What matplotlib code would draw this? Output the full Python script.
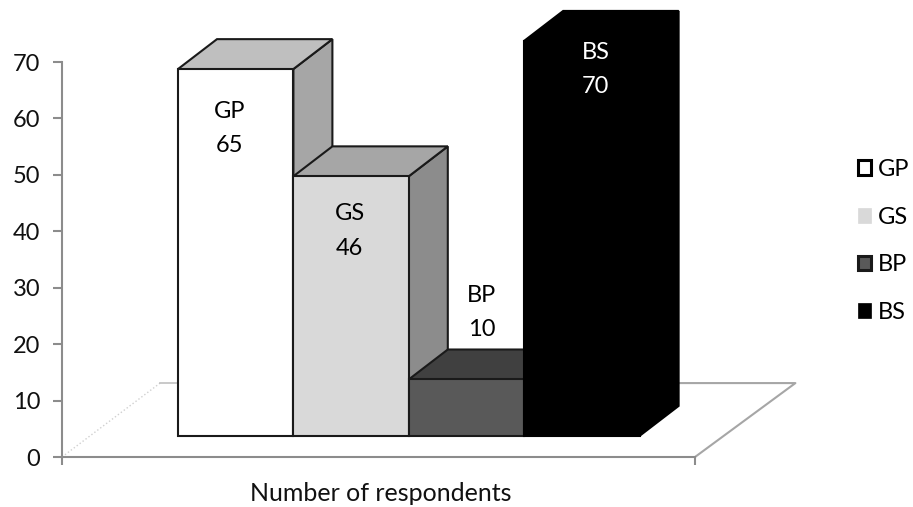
import matplotlib
matplotlib.use('Agg')
import matplotlib.pyplot as plt
from matplotlib.patches import Polygon, Patch

plt.rcParams['font.family'] = ['Lato', 'DejaVu Sans']

# Data
categories = ['GP', 'GS', 'BP', 'BS']
values = [65, 46, 10, 70]
y_ticks = [0, 10, 20, 30, 40, 50, 60, 70]
x_title = 'Number of respondents'

# Colours for each bar: front, top, side
front_colors = ['#ffffff', '#d9d9d9', '#595959', '#000000']
top_colors = ['#bfbfbf', '#a6a6a6', '#404040', '#000000']
side_colors = ['#a6a6a6', '#8c8c8c', '#404040', '#000000']
edge_colors = ['#1a1a1a', '#1a1a1a', '#1a1a1a', '#000000']

fig = plt.figure(figsize=(9.13, 5.07), dpi=100)
# axes box runs from the y axis to the end of the x axis, 0 to 70
ax = fig.add_axes([62 / 913, 1 - 457 / 507, 633 / 913, 395 / 507])
ax.set_xlim(-1.005, 4.48)
ax.set_ylim(0, 70)

# fake 3d offsets, in axis units
base = 3.75
dep_x = 0.338
dep_y = 5.3

# floor of the chart
floor_y = 13.1
ax.plot([-1.005, -0.155], [0, floor_y], color='#d0d0d0', lw=1, ls=':', clip_on=False, zorder=1)
ax.plot([-0.155, 0], [floor_y, floor_y], color='#c0c0c0', lw=1.2, zorder=1)
ax.plot([3.9, 5.35, 4.48], [floor_y, floor_y, 0], color='#a6a6a6', lw=1.5, clip_on=False, zorder=1)

for i, v in enumerate(values):
    top = base + v
    edge = edge_colors[i]
    side = [(i + 1, base), (i + 1 + dep_x, base + dep_y), (i + 1 + dep_x, top + dep_y), (i + 1, top)]
    roof = [(i, top), (i + dep_x, top + dep_y), (i + 1 + dep_x, top + dep_y), (i + 1, top)]
    front = [(i, base), (i + 1, base), (i + 1, top), (i, top)]
    z = 2 + i
    ax.add_patch(Polygon(side, fc=side_colors[i], ec=edge, lw=1.5, clip_on=False, zorder=z))
    ax.add_patch(Polygon(roof, fc=top_colors[i], ec=edge, lw=1.5, clip_on=False, zorder=z))
    ax.add_patch(Polygon(front, fc=front_colors[i], ec=edge, lw=1.5, clip_on=False, zorder=z))

# data labels
label_x = [0.45, 1.49, 2.63, 3.62]
label_y = [58.2, 40.0, 25.6, 68.7]
for i, v in enumerate(values):
    c = 'white' if i == 3 else 'black'
    ax.text(label_x[i], label_y[i], categories[i] + '\n' + str(v), ha='center', va='center',
            fontsize=17, color=c, linespacing=1.8, zorder=10)

# axes
for s in ['top', 'right']:
    ax.spines[s].set_visible(False)
for s in ['left', 'bottom']:
    ax.spines[s].set_color('#8c8c8c')
    ax.spines[s].set_linewidth(1.5)
ax.patch.set_alpha(0)
ax.set_yticks(y_ticks)
ax.set_xticks([-1.005, 4.48])
ax.set_xticklabels([])
ax.tick_params(axis='both', color='#8c8c8c', width=1.5, length=6)
ax.tick_params(axis='y', labelsize=17, pad=9, labelcolor='#111111', length=6.5)
ax.set_xlabel(x_title, fontsize=18, labelpad=8.5, x=0.503, color='#111111')

# legend
handles = [
    Patch(fc='#ffffff', ec='#000000', lw=2.2),
    Patch(fc='#d9d9d9', ec='#d9d9d9', lw=0.5),
    Patch(fc='#595959', ec='#1a1a1a', lw=2.2),
    Patch(fc='#000000', ec='#000000', lw=0.5),
]
fig.legend(handles, categories, loc='center left', bbox_to_anchor=(857.5 / 913, 1 - 241 / 507),
           frameon=False, fontsize=17, handlelength=0.58, handleheight=0.58,
           handletextpad=0.3, labelspacing=1.13, borderpad=0, borderaxespad=0)

plt.savefig('out.png', dpi=100)
